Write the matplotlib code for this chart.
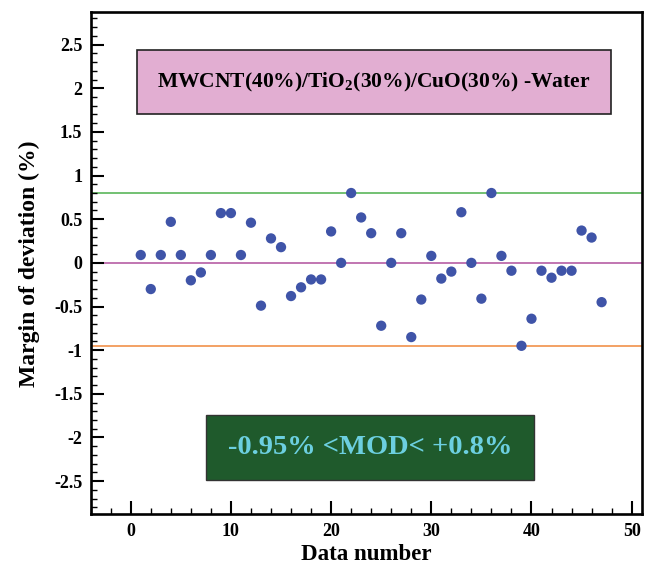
#!/usr/bin/env python3
"""Margin of deviation scatter for MWCNT/TiO2/CuO-water data."""
import matplotlib
matplotlib.use("Agg")
import matplotlib.pyplot as plt
from matplotlib.patches import Rectangle
from matplotlib.ticker import MultipleLocator

plt.rcParams["font.family"] = ["Liberation Serif", "DejaVu Serif"]
plt.rcParams["font.weight"] = "bold"
plt.rcParams["mathtext.fontset"] = "custom"
plt.rcParams["mathtext.rm"] = "Liberation Serif:bold"
plt.rcParams["mathtext.bf"] = "Liberation Serif:bold"

data_number = list(range(1, 48))
deviation = [0.09, -0.30, 0.09, 0.47, 0.09, -0.20, -0.11, 0.09, 0.57, 0.57,
             0.09, 0.46, -0.49, 0.28, 0.18, -0.38, -0.28, -0.19, -0.19, 0.36,
             0.0, 0.80, 0.52, 0.34, -0.72, 0.0, 0.34, -0.85, -0.42, 0.08,
             -0.18, -0.10, 0.58, 0.0, -0.41, 0.80, 0.08, -0.09, -0.95, -0.64,
             -0.09, -0.17, -0.09, -0.09, 0.37, 0.29, -0.45]
upper_bound = 0.8
lower_bound = -0.95
title_text = r"MWCNT(40%)/TiO$_{\mathbf{2}}$(30%)/CuO(30%) -Water"
mod_text = "-0.95% <MOD< +0.8%"

fig = plt.figure(figsize=(6.5, 5.66), dpi=100)
ax = fig.add_axes([0.1395, 0.0913, 0.8477, 0.887])

ax.axhline(upper_bound, color="#4cb04c", lw=1.1, zorder=1)
ax.axhline(0, color="#b0509c", lw=1.1, zorder=1)
ax.axhline(lower_bound, color="#f0883a", lw=1.1, zorder=1)
ax.scatter(data_number, deviation, s=55, color="#3f54a8", zorder=3,
           edgecolors="none")

ax.set_xlim(-4, 51)
ax.set_ylim(-2.88, 2.87)
ax.xaxis.set_major_locator(MultipleLocator(10))
ax.xaxis.set_minor_locator(MultipleLocator(2))
ax.yaxis.set_minor_locator(MultipleLocator(0.1))
ax.set_yticks([-2.5, -2, -1.5, -1, -0.5, 0, 0.5, 1, 1.5, 2, 2.5])
ax.set_yticklabels(["-2.5", "-2", "-1.5", "-1", "-0.5", "0", "0.5", "1",
                    "1.5", "2", "2.5"])
ax.tick_params(which="major", direction="in", length=9.5, width=1.5,
               labelsize=13, pad=6, right=False, top=False)
ax.tick_params(which="minor", direction="in", length=4, width=1.0)
for s in ax.spines.values():
    s.set_linewidth(1.9)

ax.set_xlabel("Data number", fontsize=16.5, fontweight="bold", labelpad=3)
ax.set_ylabel("Margin of deviation (%)", fontsize=17, fontweight="bold",
              labelpad=10)

# annotation boxes (axes fraction)
ax.add_patch(Rectangle((0.0846, 0.797), 0.8591, 0.128, transform=ax.transAxes,
                       facecolor="#e2aed2", edgecolor="#222222", lw=1.2,
                       zorder=4))
ax.text(0.514, 0.861, title_text, transform=ax.transAxes, ha="center",
        va="center", fontsize=15.5, fontweight="bold", color="black", zorder=5)
ax.add_patch(Rectangle((0.2087, 0.0683), 0.5963, 0.1295,
                       transform=ax.transAxes, facecolor="#1f5a2c",
                       edgecolor="#333333", lw=1.0, zorder=4))
ax.text(0.507, 0.133, mod_text, transform=ax.transAxes, ha="center",
        va="center", fontsize=20.5, fontweight="bold", color="#6ccfe0",
        zorder=5)

fig.savefig("out.png", dpi=100)
print("Saved: out.png")
